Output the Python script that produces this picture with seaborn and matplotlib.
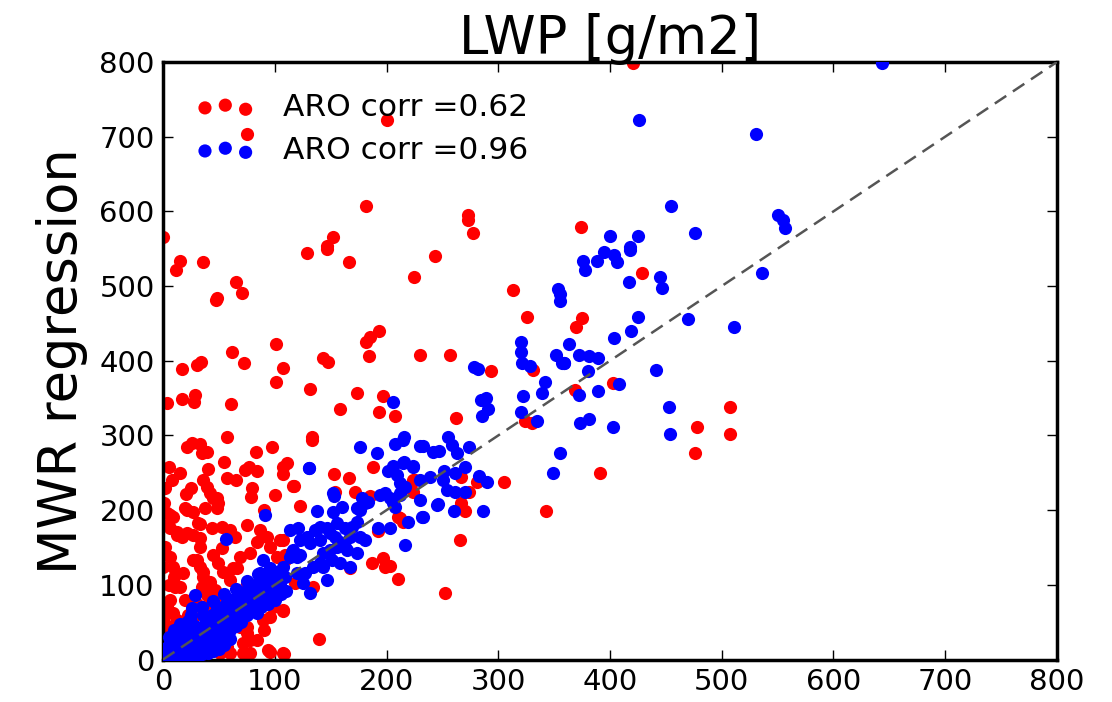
import matplotlib
matplotlib.use("Agg")
import matplotlib.pyplot as plt
import seaborn as sns
import numpy as np
import pandas as pd

# ---- data ----
red_pts = [
    (200,722),(182,607),(273,595),(273,588),(277,571),(129,544),(147,553),(147,549),(152,566),(166,532),
    (243,540),(225,512),(313,495),(0,566),(15,533),(12,522),(36,532),(65,505),(71,491),(48,484),(75,703),
    (421,798),(374,579),(429,518),(375,457),(370,445.5),(403,370),(369,361),(507.6,337.6),(507.6,302),
    (478,311.6),(476,276),(391.5,250),(325.6,459),(230,407.6),(257,407.6),(331,387.5),(293.4,386.6),
    (324,319.7),(330,316),(262,323),(343,199),(266.5,244),(280.8,238),(305.3,238),(274,224),(266.5,210),
    (270.4,199),(266,160),(224,240),(223.5,224.6),(212,189),(252.5,88.6),
    (133,294),(110.7,263.5),(107,249),(117.3,232.7),(153.4,249),(166.5,242.6),(187.7,258),(225.6,241),
    (122.6,206),(154,224.6),(172,223.8),(185.3,219),(210.7,190.4),(215,184.5),(107.7,160),(118,102),
    (134.6,97.5),(109.2,140),(109.2,133),(186.8,129.6),(196.7,135.5),(198.7,124.2),(203.2,125.2),
    (210.7,107.4),(167.4,122),(107.7,65.3),(140,27),(108.3,8),(192.7,172),
    (47.4,481),(193.4,440),(185.3,432),(181.7,424.6),(184.7,406.3),(100.9,422),(61.5,412),(72.5,396.5),
    (107.7,390.6),(100.9,371),(17.3,388.5),(30.2,394),(34,398),(143.5,404),(147.4,398.6),(131.6,361.7),
    (174,357),(197.2,353),(193.6,331.7),(207.7,326.4),(158.5,335.3),(3.3,343.8),(17.3,348.7),(28.6,354),
    (28,345),(60.6,341.6),(57,298.3),(133,297.5),(97.9,284),(21.2,285),(26.2,289.4),(33,288.5),(34.6,277),
    (39.7,278.2),(83.3,277.4),(5.4,257.3),(73.4,253.7),(77.3,258),(83.9,252.7),(107,258),
    (57,242.6),(36,240.3),(39,231.3),(42,222.5),(48,215.8),(20.6,221.6),(78.5,218),(116.7,232.3),
    (45,215.8),(49.5,209),(48,202.4),(37.6,202.4),(27.1,197.8),(19.7,202.4),(9.2,191),(3.3,195.7),
    (31.6,182.3),(43.6,175.6),(52.5,177.8),(60,173.4),(64.5,164.4),(74.9,180),(6.3,175.6),(12.3,166.7),
    (21.2,169),(27.1,166.7),(33,162.2),(86.8,173.4),(92.8,164.4),(83.9,157.7),(77.9,142.2),(68.9,137.6),
    (63,122),(104.7,160),(95.8,151),(101.8,137.6),(33,151),(27.1,133.2),(33,124.2),(45,140),(49.5,128.8),
    (6.3,137.6),(0.3,124.2),(9.2,124.2),(18.2,115.4),(15.2,97.5),(36,110.8),(42,104),(34.6,97.5),(39,86.3),
    (46.5,93),(51,86.3),(54,117.5),(66,122),(60,106.4),(74.9,102),(82.4,99.7),(86.8,93),(3.3,70.7),
    (9.2,61.8),(0.3,52.9),(6.3,44),(95.8,84),(98.7,70.7),(107.7,66.3),(95.8,57.3),(69,44),(74.9,35),
    (71.9,21.7),(83.9,26.1),(57,17),(60,8.3),(51,8.3),(71.9,8.3),(77.9,8.3),(95.8,10.4),(107.7,8.3),
    (27.1,21.7),(36,12.7),(42,26.1),
    (21.2,200),(6.3,193.4),(4.8,180),(12.3,171),(16.7,164.4),(33,182),(52.5,149),(30,133),(36,117.5),
    (10.7,97.5),(6.3,79.7),(4.8,61.8),(12.3,52.9),(27,57.3),(36,70.7),(45,57.3),(54,44),(66,48.5),(75,44),
    (78,26),(89.8,52.9),(94.3,12.7),(73.4,9),
    (3,8),(10,15),(15,3),(20,25),(25,5),(30,35),(18,40),(12,30),(8,45),(2,30),(22,60),(5,100),(2,150),
    (1,210),(2,230),(8,240),(15,250),(25,230),(40,255),(55,265),(10,110),(20,80),(30,75),(45,75),(60,65),
    (80,75),(90,40),(90,200),(80,230),(100,220),(65,240),
]
blue_pts = [
    (643,798),(531,703),(550,595),(555,589),(557,578),(536,518),(511,445),(476,571),(426,723),(454.5,607.5),
    (400,566.5),(425,566.5),(417.5,552.6),(418,548),(395,545),(404,541.5),(406,532),(376,533.5),(378,522),
    (388,533.5),(445,511.6),(446.5,497),(417,505),(353.6,495.6),(355.4,490),(355.4,480),(425,459),(419,440),
    (404,431),(470,456),(363,422),(372.4,407.6),(381.6,406),(389,403.6),(358.4,397),(380,386.6),(408,369),
    (441,387.5),(372.4,354),(389.4,359),(453,338),(373.3,316),(381.6,322),(403,311.6),(454,302),(355.4,276),
    (349.4,250),
    (320.5,424.6),(320.5,412),(321,397.3),(328.6,393),(278.7,391),(282.3,388.5),(351.6,407.6),(357,397.3),
    (359,397.3),(341.4,372),(339.6,357),(322,353),(284.7,347.4),(289,349.7),(291.2,335.3),(285.9,326.4),
    (320,331.7),(334.5,319.7),
    (230,286),(242,278),(247,279),(255.4,298),(258.5,287),(263.5,277),(274,284),(270.4,258),(251.6,252.7),
    (261.4,250),(239,244),(230,240),(250.4,240),(283,245.6),(289.8,238),(254,227),(261.4,224),(270.4,224),
    (230,213.5),(246.5,207.8),(260.8,199),(286.8,198.8),(232.5,190.4),(215.8,298),(233,286),(215.8,265),
    (224,258),(215,231),(212,223),(231.6,190.4),(219.6,184.5),
    (176.4,285),(191.8,277),(207.7,288.5),(215,294),(130.7,256.8),(201.7,252.3),(206.2,259),(215,263.5),
    (224,259),(209,247),(212,236),(216.6,231),(152.5,222.5),(153,219),(178,216),(180.8,209),(176.4,200),
    (173.4,202.4),(183.8,211),(194.3,220),(198.7,222.5),(203.2,215.8),(206.2,209),(212,220),(207.7,204.5),
    (160,204.5),(152.5,197.8),(137.6,199),(245,206.8),(113.7,173),(121,175.6),(128.6,164.4),(136,173),
    (140.5,177.8),(146.5,175.6),(149.5,169),(140.5,160),(131.6,155.5),(122.6,160),(155.5,182.3),(163,175.6),
    (169,177.8),(173.4,184.5),(154,164.4),(158.5,157.7),(163,151),(155.5,151),(149.5,146.6),(143.5,142),
    (167.4,164.4),(176.4,164.4),(180.8,160),(192.7,175.6),(203.2,175.6),(216.6,153.3),(173.4,142),
    (116.6,146.6),(122.6,140),(113.7,137.7),(107.7,124.2),(109,110.8),(119.5,115.3),(127,115.3),(125.5,102),
    (131.6,88.6),(146.5,106.4),(140.5,128.8),(143.5,124.2),(134.6,124.2),(151,133.2),(158.5,128.8),
    (167.4,124.2),(164.4,146.6),(104.7,97.5),(104.7,90.8),
    (206.2,344.3),(130.5,257),(56,162),(91,193),(28.6,86.3),(25.7,68.5),(54,26),(115.2,144.3),(119.7,137.6),
    (89.8,133.2),(95.8,122),(101.8,117.5),(86.8,115.4),(92.8,108.7),(98.7,102),(86.8,102),(77.9,97.5),
    (5,3),(8,10),(10,5),(12,15),(15,8),(18,20),(20,12),(22,25),(25,18),(28,30),(30,22),(32,35),(35,28),
    (38,42),(40,33),(42,48),(45,38),(48,52),(50,44),(52,58),(55,48),(58,62),(60,55),(62,68),(65,58),
    (68,72),(70,64),(72,78),(75,68),(78,82),(80,75),(82,88),(85,80),(88,92),(90,85),(92,98),(95,90),
    (98,105),(100,95),(102,110),(105,100),(3,15),(6,22),(10,30),(14,40),(20,45),(25,50),(30,12),(35,15),
    (40,20),(45,25),(50,30),(55,35),(60,40),(65,45),(70,50),(2,1),(4,8),(7,2),(12,2),(15,25),(18,5),
    (24,10),(28,16),(33,20),(38,55),(44,60),(50,65),(56,75),(62,80),(68,88),(74,92),(80,95),(86,105),
    (92,112),(96,120),(84,62),(88,70),(94,75),(100,80),(106,88),(110,92),(20,35),(25,38),(16,32),(8,18),(1,6),
    (10,0),(20,3),(30,5),(40,9),(50,14),(15,1),(25,2),(35,7),(45,12),(55,20),(60,28),(5,30),(10,40),
    (15,48),(25,60),(35,70),(45,78),(55,88),(65,95),(75,105),(85,115),(48,70),(58,78),(70,88),(36,60),
    (30,44),(22,52),(75,60),(80,65),(65,52),
]
red_x = [p[0] for p in red_pts]
red_y = [p[1] for p in red_pts]
blue_x = [p[0] for p in blue_pts]
blue_y = [p[1] for p in blue_pts]
red_label = "ARO corr =0.62"
blue_label = "ARO corr =0.96"
diag = [0, 800]
ticks = [0, 100, 200, 300, 400, 500, 600, 700, 800]
title = "LWP [g/m2]"
ylabel = "MWR regression"

sns.set_style("white")
plt.rcParams['font.family'] = ['DejaVu Sans']
for k in ['text.color', 'axes.labelcolor', 'xtick.color', 'ytick.color', 'axes.edgecolor']:
    plt.rcParams[k] = 'black'

fig = plt.figure(figsize=(11.12, 7.02), dpi=100)
ax = fig.add_axes([0.1466, 0.0605, 0.9505 - 0.1466, 0.9117 - 0.0605])

sns.scatterplot(x=red_x, y=red_y, color='#ff0000', s=90, linewidth=0, ax=ax, label=red_label, zorder=2)
sns.scatterplot(x=blue_x, y=blue_y, color='#0000ff', s=90, linewidth=0, ax=ax, label=blue_label, zorder=3)
sns.lineplot(x=diag, y=diag, color='#555555', lw=1.8, ls=(0, (5.5, 3.2)), ax=ax, zorder=4, legend=False)

ax.set_xlim(0, 800)
ax.set_ylim(0, 800)
ax.set_xticks(ticks)
ax.set_yticks(ticks)
ax.tick_params(direction='in', length=7, width=1, labelsize=21, top=True, right=True,
               bottom=True, left=True, pad=6, colors='black')
for sp in ax.spines.values():
    sp.set_linewidth(2.5)
    sp.set_color('black')
ax.set_title(title, fontsize=38, pad=6, color='black')
ax.set_ylabel(ylabel, fontsize=38, labelpad=8, color='black')

leg = ax.legend(loc='upper left', frameon=False, scatterpoints=3, fontsize=22.5,
          handlelength=1.9, handletextpad=0.9, borderaxespad=0.5, labelspacing=0.45,
          scatteryoffsets=[0.375, 0.5, 0.3125], bbox_to_anchor=(0.005, 0.995))
for t in leg.get_texts():
    t.set_color('black')

fig.savefig("out.png", dpi=100)
